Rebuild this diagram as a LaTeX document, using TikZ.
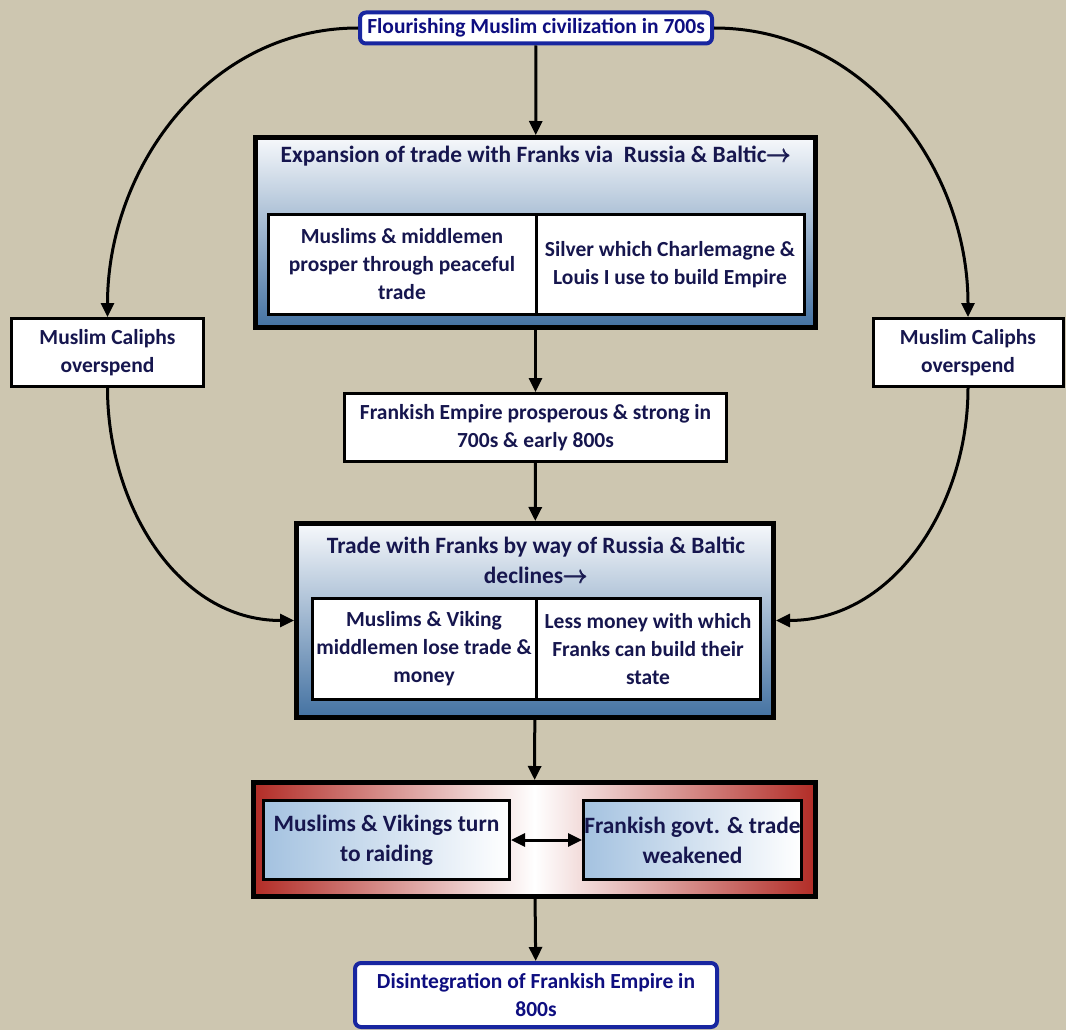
\documentclass[tikz,border=0pt]{standalone}
\usepackage{amsmath}
\usepackage{fontspec}
\setmainfont{Carlito}
\usetikzlibrary{arrows.meta,positioning,shapes}

\definecolor{paper}{RGB}{205,198,176}
\definecolor{ink}{RGB}{22,22,78}
\definecolor{royal}{RGB}{14,14,128}
\definecolor{rim}{RGB}{24,38,160}
\definecolor{steel}{RGB}{68,114,162}
\definecolor{haze}{RGB}{246,248,251}
\definecolor{brick}{RGB}{178,44,38}
\definecolor{ice}{RGB}{164,194,224}

\newcommand{\thenarrow}{$\pmb{\rightarrow}$}

\begin{document}
\begin{tikzpicture}[x=1pt,y=-1pt,
    >={Triangle[length=14pt,width=13pt]},
    txt/.style={font=\bfseries\fontsize{21.5}{28}\selectfont, align=center, text=ink},
    bigtxt/.style={txt, font=\bfseries\fontsize{23.4}{30}\selectfont},
    endbox/.style={txt, text=royal, draw=rim, line width=4pt, rounded corners=6pt, fill=white, inner sep=0pt},
    plainbox/.style={txt, draw=black, line width=3pt, fill=white, inner sep=0pt},
    panel/.style={draw=black, line width=5pt, top color=haze, bottom color=steel, inner sep=0pt},
    redpanel/.style={draw=black, line width=5pt, left color=brick, right color=brick, middle color=white, inner sep=0pt},
    icebox/.style={plainbox, bigtxt, left color=ice, right color=white},
    link/.style={->, line width=3pt}]

    % background
    \fill[paper] (0,0) rectangle (1066,1030);
    \useasboundingbox (0,0) rectangle (1066,1030);

    % top and bottom of the chain
    \node[endbox, minimum width=352, minimum height=31] (civ) at (536,28)
        {Flourishing Muslim civilization in 700s};
    \node[endbox, minimum width=362, minimum height=64] (split) at (536,995)
        {Disintegration of Frankish Empire in\\800s};

    % side causes
    \node[plainbox, minimum width=192, minimum height=68] (spendL) at (107.5,352.5)
        {Muslim Caliphs\\overspend};
    \node[plainbox, minimum width=190, minimum height=68] (spendR) at (968,352.5)
        {Muslim Caliphs\\overspend};

    % expansion of trade
    \node[panel, minimum width=560, minimum height=190] (grow) at (535.5,232.5) {};
    \node[bigtxt] (growtitle) at (536,156)
        {Expansion of trade with Franks via\ \ Russia \& Baltic\thenarrow};
    \node[plainbox, minimum width=268, minimum height=100] (prosper) at (402,264.5)
        {Muslims \& middlemen\\prosper through peaceful\\trade};
    \node[plainbox, minimum width=268, minimum height=100] (silver) at (670,264.5)
        {Silver which Charlemagne \&\\Louis I use to build Empire};

    \node[plainbox, minimum width=382, minimum height=68] (strong) at (535.5,427.5)
        {Frankish Empire prosperous \& strong in\\700s \& early 800s};

    % decline of trade
    \node[panel, minimum width=477, minimum height=194] (fall) at (535,620.5) {};
    \node[bigtxt] (falltitle) at (536,560)
        {Trade with Franks by way of Russia \& Baltic\\declines\thenarrow};
    \node[plainbox, minimum width=224, minimum height=101] (lose) at (424,649)
        {Muslims \& Viking\\middlemen lose trade \&\\money};
    \node[plainbox, minimum width=224, minimum height=101] (less) at (648,649)
        {Less money with which\\Franks can build their\\state};

    % raiding and weakening
    \node[redpanel, minimum width=562, minimum height=114] (crisis) at (534.5,839.5) {};
    \node[icebox, minimum width=246, minimum height=79] (raid) at (386.5,840)
        {Muslims \& Vikings turn\\to raiding};
    \node[icebox, minimum width=218, minimum height=79] (weak) at (692.5,840)
        {Frankish govt. \& trade\\weakened};

    % main line
    \draw[link] (civ) -- (grow);
    \draw[link] (grow) -- (strong);
    \draw[link] (strong) -- (fall);
    \draw[link] (fall) -- (crisis);
    \draw[link] (crisis) -- (split);
    \draw[link, <->] (raid) -- (weak);

    % loops round the sides
    \draw[link] (civ.west) to[out=180, in=90] (spendL.north);
    \draw[link] (civ.east) to[out=0, in=90] (spendR.north);
    \draw[link] (spendL.south) to[out=-90, in=180] (fall.west);
    \draw[link] (spendR.south) to[out=-90, in=0] (fall.east);
\end{tikzpicture}
\end{document}
